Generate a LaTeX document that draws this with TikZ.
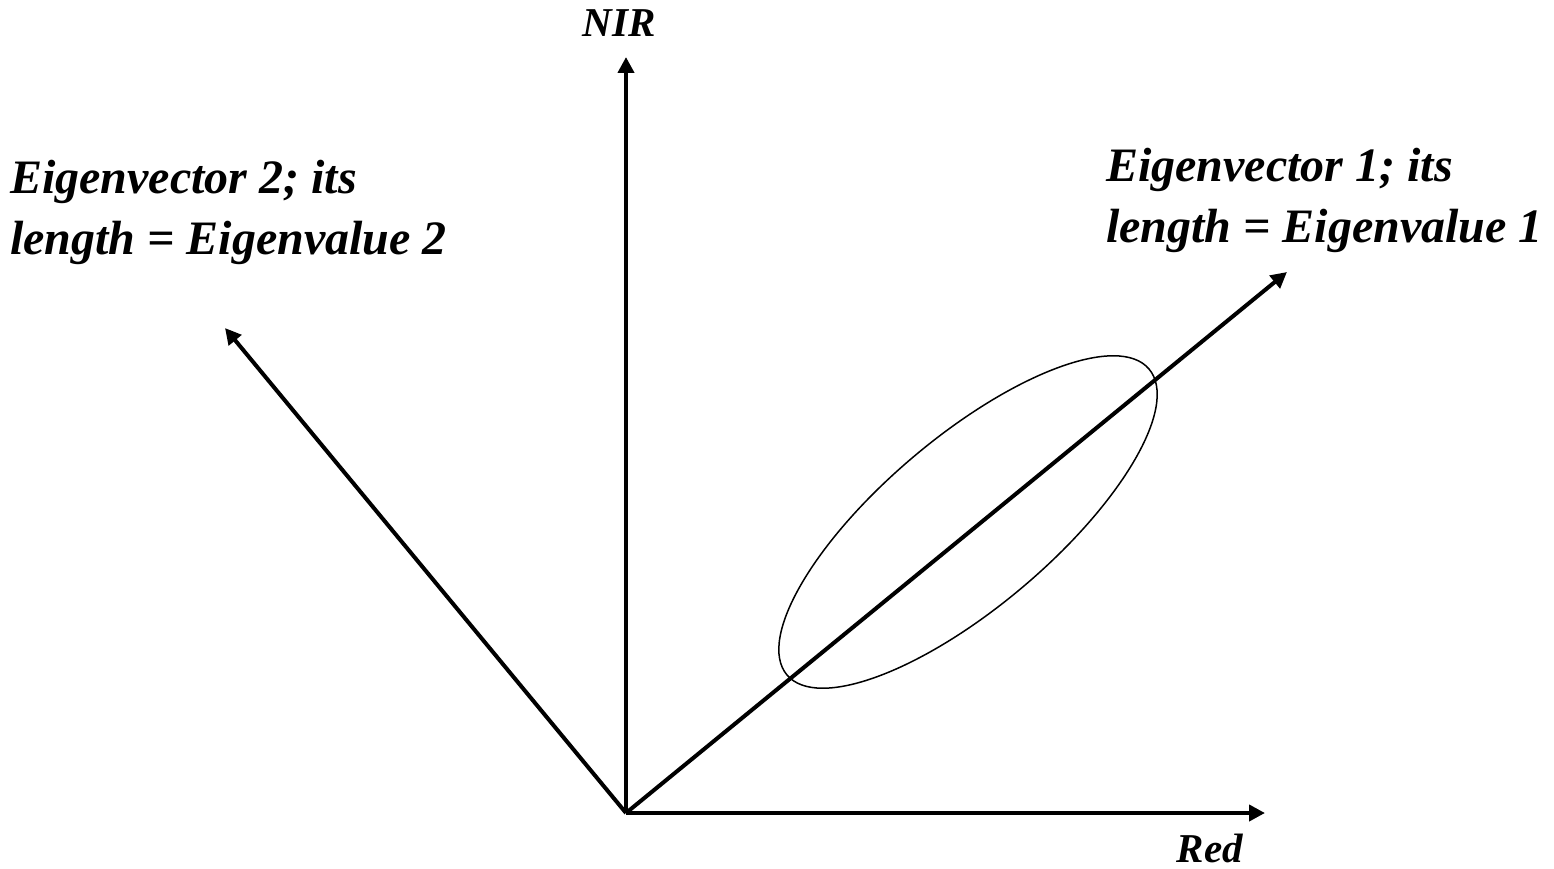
\documentclass[tikz,border=0pt]{standalone}
\usepackage{fontspec}
\setmainfont{Liberation Serif}
\usetikzlibrary{arrows.meta}
\tikzset{
  axisarrow/.style={line width=4pt, -{Triangle[length=16pt,width=16pt]}},
  bigtxt/.style={font=\fontsize{48}{61}\selectfont\bfseries\itshape, inner sep=0pt, align=left},
  axtxt/.style={font=\fontsize{41}{46}\selectfont\bfseries\itshape, inner sep=0pt},
  cloud/.style={line width=1.5pt}
}
\begin{document}
\begin{tikzpicture}[x=1pt,y=-1pt]
\useasboundingbox (0,0) rectangle (1554,869);
\coordinate (O) at (626,813);
\coordinate (nirtip) at (626,57);
\coordinate (redtip) at (1265,813);
\coordinate (e1tip) at (1287,272);
\coordinate (e2tip) at (225,328);
\draw[cloud, rotate around={40.2:(968,522)}] (968,522) ellipse [x radius=237, y radius=85];
\draw[axisarrow] (O) -- (nirtip);
\draw[axisarrow] (O) -- (redtip);
\draw[axisarrow] (O) -- (e1tip);
\draw[axisarrow] (O) -- (e2tip);
\node[axtxt, anchor=base] (nir) at (619,37) {NIR};
\node[axtxt, anchor=base] (red) at (1210,862) {Red};
\node[bigtxt, anchor=north west] (l2) at (10,160) {Eigenvector 2; its\\length = Eigenvalue 2};
\node[bigtxt, anchor=north west] (l1) at (1106,148) {Eigenvector 1; its\\length = Eigenvalue 1};
\end{tikzpicture}
\end{document}
